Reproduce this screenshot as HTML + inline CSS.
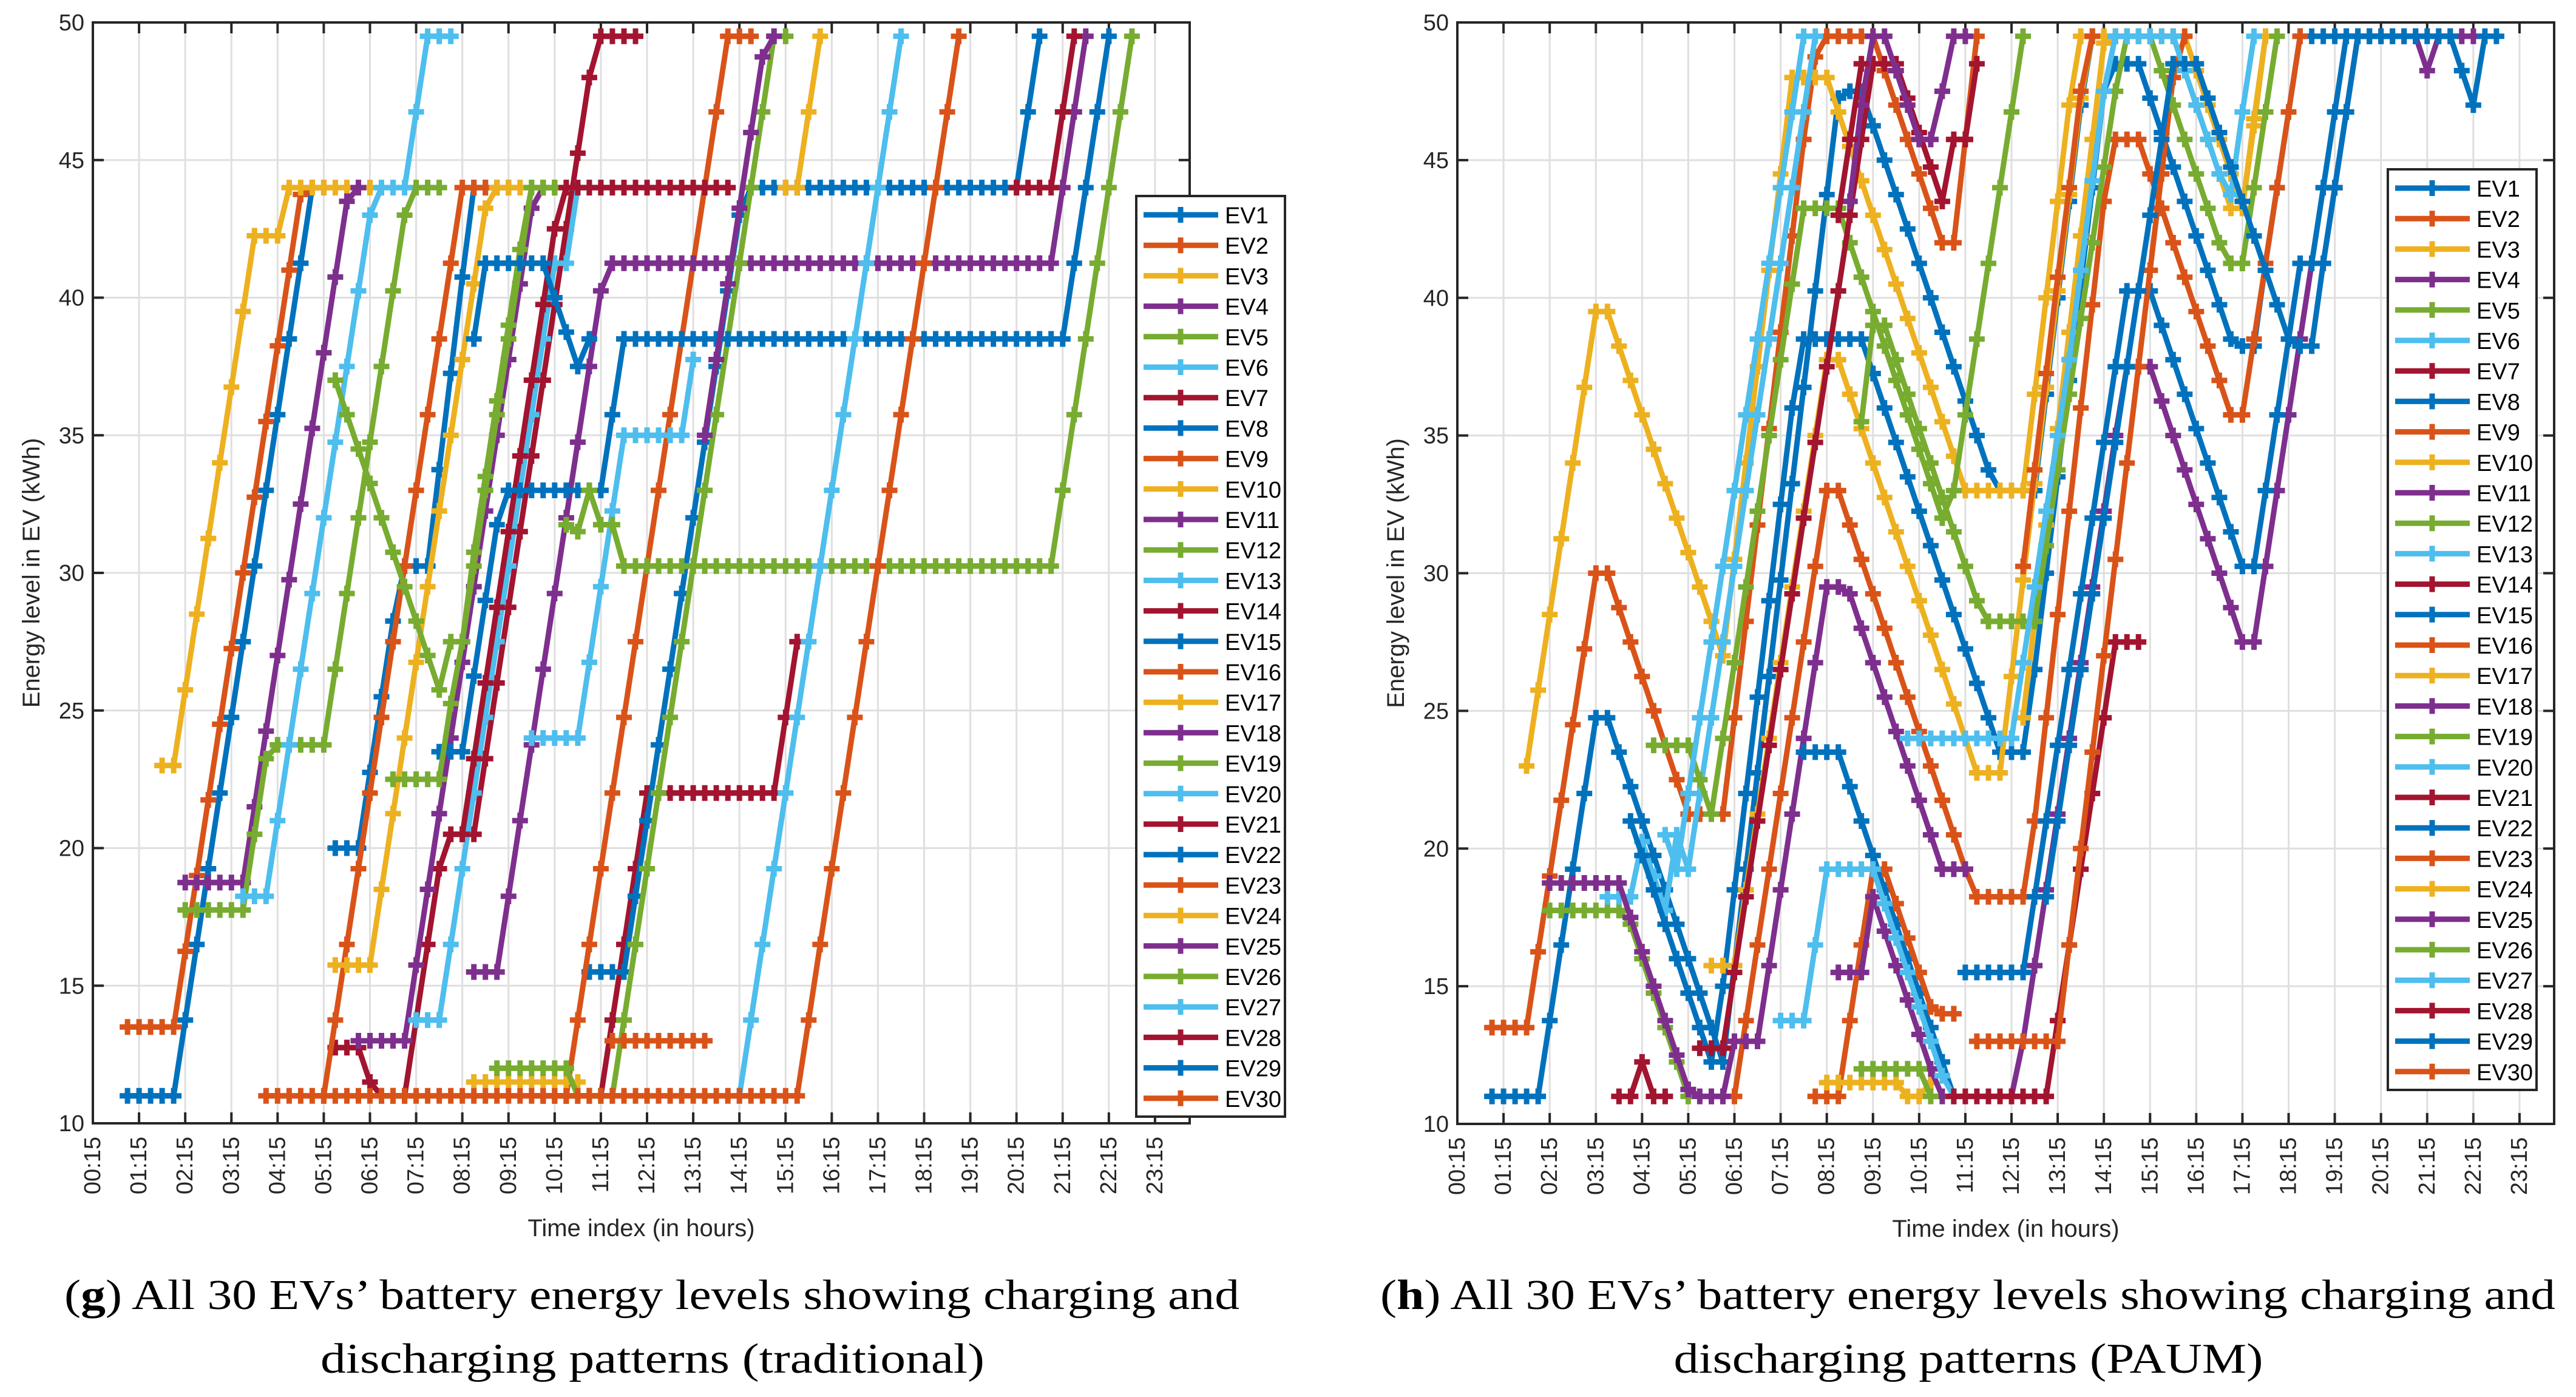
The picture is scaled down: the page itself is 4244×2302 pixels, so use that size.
<!DOCTYPE html>
<html><head><meta charset="utf-8"><style>
html,body{margin:0;padding:0;background:#fff;}
svg text{font-family:"Liberation Sans",sans-serif;}
</style></head><body>
<svg id="fig" xmlns="http://www.w3.org/2000/svg" width="4244" height="2297" viewBox="0 0 4244 2297">
<rect x="0" y="0" width="4244" height="2297" fill="#fff"/>
<g id="panelL"></g>
<g id="panelR"></g>
<g font-family="Liberation Serif, serif" font-size="70" fill="#000">
<text x="1074" y="2157" text-anchor="middle" textLength="1936" lengthAdjust="spacingAndGlyphs" style="font-family:'Liberation Serif',serif">(<tspan font-weight="bold">g</tspan>) All 30 EVs’ battery energy levels showing charging and</text>
<text x="1075" y="2262" text-anchor="middle" textLength="1094" lengthAdjust="spacingAndGlyphs" style="font-family:'Liberation Serif',serif">discharging patterns (traditional)</text>
</g>
<g font-size="70" fill="#000">
<text x="3242" y="2157" text-anchor="middle" textLength="1936" lengthAdjust="spacingAndGlyphs" style="font-family:'Liberation Serif',serif">(<tspan font-weight="bold">h</tspan>) All 30 EVs’ battery energy levels showing charging and</text>
<text x="3243" y="2262" text-anchor="middle" textLength="971" lengthAdjust="spacingAndGlyphs" style="font-family:'Liberation Serif',serif">discharging patterns (PAUM)</text>
</g>
</svg>
<script>
const xTickLabels = ["00:15","01:15","02:15","03:15","04:15","05:15","06:15","07:15","08:15","09:15","10:15","11:15","12:15","13:15","14:15","15:15","16:15","17:15","18:15","19:15","20:15","21:15","22:15","23:15"];
const xTickValues = [0.25,1.25,2.25,3.25,4.25,5.25,6.25,7.25,8.25,9.25,10.25,11.25,12.25,13.25,14.25,15.25,16.25,17.25,18.25,19.25,20.25,21.25,22.25,23.25];
const yTickValues = [10,15,20,25,30,35,40,45,50];
const seriesNames = ["EV1","EV2","EV3","EV4","EV5","EV6","EV7","EV8","EV9","EV10","EV11","EV12","EV13","EV14","EV15","EV16","EV17","EV18","EV19","EV20","EV21","EV22","EV23","EV24","EV25","EV26","EV27","EV28","EV29","EV30"];

const tradStart = [1.0,1.0,1.75,2.25,2.25,3.5,5.5,5.5,5.25,5.5,6.0,5.5,7.25,10.0,11.0,10.5,8.5,8.5,9.0,9.75,8.25,7.75,11.5,15.25,13.5,6.75,14.25,20.25,8.5,4.0];
const tradVals = [
[11,11,11,11,11,13.75,16.5,19.25,22,24.75,27.5,30.25,33,35.75,38.5,41.25,44],
[13.5,13.5,13.5,13.5,13.5,16.25,19,21.75,24.5,27.25,30,32.75,35.5,38.25,41,43.75,44,44],
[23,23,25.75,28.5,31.25,34,36.75,39.5,42.25,42.25,42.25,44,44,44,44,44,44,44,44],
[18.75,18.75,18.75,18.75,18.75,18.75,21.5,24.25,27,29.75,32.5,35.25,38,40.75,43.5,44],
[17.75,17.75,17.75,17.75,17.75,17.75,20.5,23.25,23.75,23.75,23.75,23.75,23.75,26.5,29.25,32,34.75,37.5,40.25,43,44,44,44],
[18.25,18.25,18.25,21,23.75,26.5,29.25,32,34.75,37.5,40.25,43,44,44,44,46.75,49.5,49.5,49.5],
[12.75,12.75,12.75,11.5,11,11,11,13.75,16.5,19.25,20.5,20.5,20.5,23.25,26,28.75,31.5,34.25,37,39.75,42.5,45.25,48,49.5,49.5,49.5,49.5],
[20,20,20,22.75,25.5,28.25,30.25,30.25,30.25,33.75,37.25,40.75,44,44,44,44],
[11,13.75,16.5,19.25,22,24.75,27.5,30.25,33,35.75,38.5,41.25,44,44,44],
[15.75,15.75,15.75,15.75,18.5,21.25,24,26.75,29.5,32.25,35,37.75,40.5,43.25,44,44,44],
[13,13,13,13,13,15.75,18.5,21.25,24,26.75,29.5,32.25,35,37.75,40.5,43.25,44,44],
[37,35.75,34.5,33.25,32,30.75,29.5,28.25,27,25.75,27.5,27.5,30.25,33,35.75,38.5,41.25,44,44,44,44,44],
[13.75,13.75,13.75,16.5,19.25,22,24.75,27.5,30.25,33,35.75,38.5,41.25,41.25,44,44,44],
[11,11,11,11,11,11,13.75,16.5,19.25,22,22,22,22,22,22,22,22,22,22,22,22,24.75,27.5],
[15.5,15.5,15.5,15.5,18.25,21,23.75,26.5,29.25,32,34.75,37.5,40.25,43,44,44,44,44,44,44,44,44,44,44,44,44,44,44,44,44,44,44,44,44,44,44,44,44,46.75,49.5],
[11,13.75,16.5,19.25,22,24.75,27.5,30.25,33,35.75,38.5,41.25,44,46.75,49.5,49.5,49.5],
[11.5,11.5,11.5,11.5,11.5,11.5,11.5,11.5,11.5,11.5],
[15.5,15.5,15.5,18.25,21,23.75,26.5,29.25,32,34.75,37.5,40.25,41.25,41.25,41.25,41.25,41.25,41.25,41.25,41.25,41.25,41.25,41.25,41.25,41.25,41.25,41.25,41.25,41.25,41.25,41.25,41.25,41.25,41.25,41.25,41.25,41.25,41.25,41.25,41.25,41.25,41.25,41.25,41.25,41.25,41.25,41.25,41.25,41.25,41.25,41.25,44,46.75,49.5],
[12,12,12,12,12,12,12,11,11,11,11,13.75,16.5,19.25,22,24.75,27.5,30.25,33,35.75,38.5,41.25,44,46.75,49.5,49.5],
[24,24,24,24,24,26.75,29.5,32.25,35,35,35,35,35,35,37.75],
[20.5,23.25,26,28.75,31.5,34.25,37,39.75,42.5,44,44,44,44,44,44,44,44,44,44,44,44,44,44,44],
[23.5,23.5,23.5,26.25,29,31.75,33,33,33,33,33,33,33,33,33,35.75,38.5,38.5,38.5,38.5,38.5,38.5,38.5,38.5,38.5,38.5,38.5,38.5,38.5,38.5,38.5,38.5,38.5,38.5,38.5,38.5,38.5,38.5,38.5,38.5,38.5,38.5,38.5,38.5,38.5,38.5,38.5,38.5,38.5,38.5,38.5,38.5,38.5,38.5,38.5,41.25,44,46.75,49.5],
[13,13,13,13,13,13,13,13,13],
[44,44,46.75,49.5],
[35,37.75,40.5,43.25,46,48.75,49.5],
[22.5,22.5,22.5,22.5,22.5,25.25,27.5,30.75,33.5,36.25,39,41.75,44,44,null,31.75,31.5,33,31.75,31.75,30.25,30.25,30.25,30.25,30.25,30.25,30.25,30.25,30.25,30.25,30.25,30.25,30.25,30.25,30.25,30.25,30.25,30.25,30.25,30.25,30.25,30.25,30.25,30.25,30.25,30.25,30.25,30.25,30.25,30.25,30.25,30.25,30.25,30.25,30.25,30.25,30.25,30.25,33,35.75,38.5,41.25,44,46.75,49.5],
[11,13.75,16.5,19.25,22,24.75,27.5,30.25,33,35.75,38.5,41.25,44,46.75,49.5],
[44,44,44,44,46.75,49.5],
[38.5,41.25,41.25,41.25,41.25,41.25,41.25,40,38.75,37.5,38.5],
[11,11,11,11,11,11,11,11,11,11,11,11,11,11,11,11,11,11,11,11,11,11,11,11,11,11,11,11,11,11,11,11,11,11,11,11,11,11,11,11,11,11,11,11,11,11,11,13.75,16.5,19.25,22,24.75,27.5,30.25,33,35.75,38.5,41.25,44,46.75,49.5]
];

const paumStart = [1.0,1.0,1.75,12.25,2.25,3.5,3.75,4.0,5.75,5.75,2.25,4.5,4.75,5.5,7.75,8.0,8.25,8.5,9.0,7.25,11.0,11.25,11.5,12.5,8.75,9.0,10.0,8.5,13.0,12.5];
const paumVals = [
[11,11,11,11,11,13.75,16.5,19.25,22,24.75,24.75,23.5,22.25,21,19.75,18.5,17.25,16,14.75,13.5,12.25,15.75,19.25,22.75,26.25,29.75,33.25,36.75,40.25,43.75,47.25,47.5,47.5,46.25,45,43.75,42.5,41.25,40,38.75,37.5,36.25,35,33.75,33,33,33,33,36.5,40,43.5,47,49.5],
[13.5,13.5,13.5,13.5,16.25,19,21.75,24.5,27.25,30,30,28.75,27.5,26.25,25,23.75,22.5,21.25,21.25,21.25,21.25,24.75,28.25,31.75,35.25,38.75,42.25,45.75,48.75,49.5,49.5,49.5,49.5,49.5,48.25,47,45.75,44.5,43.25,42,42,45.75,49.5],
[23,25.75,28.5,31.25,34,36.75,39.5,39.5,38.25,37,35.75,34.5,33.25,32,30.75,29.5,28.25,27,30.5,34,37.5,41,44.5,48,48,48,48,46.75,45.5,44.25,43,41.75,40.5,39.25,38,36.75,35.5,34.25,33,33,33,33,33,33,36.5,40,43.5,47,49.5,49.5,49.5,49.5,49.5,49.5,49.5,49.5,49.5,49.5,48.25,47,45.75,44.5,43.25,46.25,49.5],
[11,13,15.75,18.5,21.25,24,26.75,29.5,32.25,35,37.5,37.5,37.5,36.25,35,33.75,32.5,31.25,30,28.75,27.5,27.5,30.25,33,35.75,38.5,41.25,41.25,44,46.75,49.5,49.5,49.5,49.5,49.5,49.5,48.25,49.5,49.5,49.5,49.5],
[17.75,17.75,17.75,17.75,17.75,17.75,17.75,17.25,16,14.75,13.5,12.25,11],
[18.25,18.25,18.25,20.25,19,17.75,20.5,19.25,22,24.75,27.5,30.25,33,35.75,38.5,41.25,44,46.75,49.5],
[11,11,12.25,11,11],
[21,19.75,18.5,17.25,16,14.75,13.5,12.25,15,18.5,22,25.5,29,32.5,36,38.5,38.5,38.5,38.5,38.5,38.5,37.25,36,34.75,33.5,32.25,31,29.75,28.5,27.25,26,24.75,23.5,23.5,23.5,26.5,30,33.5,37,40.5,44,47.5,48.5,48.5,48.5,47.25,46,44.75,43.5,42.25,41,39.75,38.5,38.25,38.25,41.25,44,46.75,49.5,49.5,49.5,49.5,49.5,49.5,49.5,49.5,49.5,49.5,49.5,49.5,49.5,49.5,48.25,47,49.5,49.5],
[11,11,11,13.75,16.5,19.25,22,24.75,27.5,30.25,33,33,31.75,30.5,29.25,28,26.75,25.5,24.25,23,21.75,20.5,19.25,18.25,18.25,18.25,18.25,18.25,21,24.75,28.5,32.25,36,39.75,43.5,45.75,45.75,45.75,44.5,43.25,42,40.75,39.5,38.25,37,35.75,35.75,38.5,41.25,44,46.75,49.5],
[15.75,15.75,15.75,18.5,21.25,24,26.75,29.5,32.25,35,37.75,37.75,36.5,35.25,34,32.75,31.5,30.25,29,27.75,26.5,25.25,24,22.75,22.75,22.75,26.25,29.75,33.25,36.75,40.25,43.75,47.25,49.5,49.5,49.5,49.5,49.5],
[18.75,18.75,18.75,18.75,18.75,18.75,18.75,17.5,16.25,15,13.75,12.5,11.25,11,11,11,13,13,13,15.75,18.5,21.25,24,26.75,29.5,29.5,29.25,28,26.75,25.5,24.25,23,21.75,20.5,19.25,19.25,19.25],
[23.75,23.75,23.75,23.75,22.5,21.25,24,26.75,29.5,32.25,35,37.75,40.5,43.25,43.25,43.25,43.25,42,40.75,39.5,38.25,37,35.75,34.5,33.25,32,33,35.75,38.5,41.25,44,46.75,49.5],
[20.5,19.25,22,24.75,27.5,30.25,33,35.75,38.5,41.25,44,46.75,49.5],
[12.75,12.75,12.75,15.5,18.25,21,23.75,26.5,29.25,32,34.75,37.5,40.25,43,45.75,48.5,48.5,48.5,47.25,46,44.75,43.5,45.75,45.75,48.5],
[23.5,23.5,23.5,23.5,22.25,21,19.75,18.5,17.25,16,14.75,13.5,12.25,11],
[11,11,11,13.75,16.5,19.25,19.25,18,16.75,15.5,14.25,14,14],
[11.5,11.5,11.5,11.5,11.5,11.5,11.5,11,11,11.5],
[15.5,15.5,15.5,18.25,17,15.75,14.5,13.25,12,11],
[12,12,12,12,12,12,11],
[13.75,13.75,13.75,16.5,19.25,19.25,19.25,19.25,19.25,18,16.75,15.5,14.25,13,11.75,11],
[11,11,11,11,11,11,11,11,11,13.75,16.5,19.25,22,24.75,27.5,27.5,27.5],
[15.5,15.5,15.5,15.5,15.5,15.5,18.25,21,23.75,26.5,29.25,32,34.75,37.5,40.25,40.25,40.25,39,37.75,36.5,35.25,34,32.75,31.5,30.25,30.25,33,35.75,38.5,41.25,41.25,44,46.75,49.5],
[13,13,13,13,13,13,13,13,16.5,20,23.5,27,30.5,34,37.5,41,44.5,48,49.5],
[24.75,28.25,31.75,35.25,38.75,42.25,45.75,49.25,49.5,49.5,49.5,49.5,49.5,49.5,48.25,47,45.75,44.5,43.25,43.25,46.5,49.5],
[43.5,47,49.5,49.5,48.25,47,45.75,45.75,47.5,49.5,49.5],
[35.5,39,39,37.75,36.5,35.25,34,32.75,31.5,30.25,29,28.25,28.25,28.25,28.25,28.25,31,33.75,36.5,39.25,42,44.75,47.5,49.5,49.5,49.5,48.25,47,45.75,44.5,43.25,42,41.25,41.25,44,46.75,49.5],
[24,24,24,24,24,24,24,24,24,24,26.75,29.5,32.25,35,37.75,41,44.25,47.5,49.5,49.5,49.5,49.5,49.5,49.5,48.25,47,45.75,44.5,43.75,46.75,49.5],
[43,45.75,48.5],
[18.25,21,23.75,26.5,29.25,32,34.75,37.5,40.25,43,45.75,48.5,48.5,48.5,47.25,46,44.75,43.5,42.25,41,39.75,38.5,38.25,38.25,41.25,44,46.75,49.5,49.5],
[30.25,33.75,37.25,40.75,44,47.5,49.5]
];

const palette = ["#0072BD","#D95319","#EDB120","#7E2F8E","#77AC30","#4DBEEE","#A2142F"];
const NS = "http://www.w3.org/2000/svg";
function mk(tag, attrs, parent){const e=document.createElementNS(NS,tag);for(const k in attrs)e.setAttribute(k,attrs[k]);parent.appendChild(e);return e;}

function drawPanel(g, L, R, T, B, starts, vals, legX, legY, key){
  const xMin=0.25,xMax=24.0,yMin=10,yMax=50;
  const X=t=>L+(t-xMin)/(xMax-xMin)*(R-L);
  const Y=v=>B-(v-yMin)/(yMax-yMin)*(B-T);
  const grid=mk('g',{},g);
  
  
  xTickValues.forEach(t=>{mk('line',{x1:X(t),x2:X(t),y1:T,y2:B,stroke:'#dfdfdf','stroke-width':3},grid);});
  yTickValues.forEach(v=>{mk('line',{x1:L,x2:R,y1:Y(v),y2:Y(v),stroke:'#dfdfdf','stroke-width':3},grid);});
  const ticks=mk('g',{stroke:'#262626','stroke-width':4},g);
  
  
  xTickValues.forEach(t=>{mk('line',{x1:X(t),x2:X(t),y1:B,y2:B-18},ticks);mk('line',{x1:X(t),x2:X(t),y1:T,y2:T+18},ticks);});
  yTickValues.forEach(v=>{mk('line',{x1:L,x2:L+18,y1:Y(v),y2:Y(v)},ticks);mk('line',{x1:R,x2:R-18,y1:Y(v),y2:Y(v)},ticks);});
  const xl=mk('g',{fill:'#262626','font-size':38},g);
  
  
  xTickValues.forEach((t,i)=>{const tx=mk('text',{x:0,y:0,'text-anchor':'end','dominant-baseline':'central',transform:`translate(${X(t)},${B+22}) rotate(-90)`},xl);tx.textContent=xTickLabels[i];});
  const yl=mk('g',{fill:'#262626','font-size':38},g);
  
  
  yTickValues.forEach(v=>{const tx=mk('text',{x:L-14,y:Y(v)+13,'text-anchor':'end'},yl);tx.textContent=String(v);});
  const xt=mk('text',{x:(L+R)/2,y:B+186,'text-anchor':'middle','font-size':40,fill:'#262626'},g);
  
  
  xt.textContent='Time index (in hours)';
  const yt=mk('text',{x:0,y:0,'text-anchor':'middle','font-size':40,fill:'#262626',transform:`translate(${L-88},${(T+B)/2}) rotate(-90)`},g);
  
  
  yt.textContent='Energy level in EV (kWh)';
  const sg=mk('g',{},g);
  
  
  vals.forEach((arr,i)=>{
    const col=palette[i%7];
    const s=mk('g',{},sg);
    
    
    let d='',pen=false,md='';
    arr.forEach((v,k)=>{
      if(v===null){pen=false;return;}
      const x=X(starts[i]+k*0.25),y=Y(v);
      d+=(pen?'L':'M')+x.toFixed(1)+' '+y.toFixed(1)+' ';pen=true;
      md+=`M${(x-13).toFixed(1)} ${y.toFixed(1)}h26M${x.toFixed(1)} ${(y-13).toFixed(1)}v26`;
    });
    mk('path',{d:d,fill:'none',stroke:col,'stroke-width':9,'stroke-linejoin':'round'},s);
    mk('path',{d:md,fill:'none',stroke:col,'stroke-width':9},s);
  });
  const box=mk('rect',{x:L,y:T,width:R-L,height:B-T,fill:'none',stroke:'#262626','stroke-width':4},g);
  
  
  const lg=mk('g',{},g);
  
  
  mk('rect',{x:legX,y:legY,width:245,height:1517,fill:'#fff',stroke:'#262626','stroke-width':4},lg);
  seriesNames.forEach((n,i)=>{
    const e=mk('g',{},lg);
    
    
    const y=legY+31+i*50.2,col=palette[i%7];
    mk('line',{x1:legX+12,x2:legX+135,y1:y,y2:y,stroke:col,'stroke-width':9},e);
    mk('path',{d:`M${legX+73} ${y-13}v26`,stroke:col,'stroke-width':9},e);
    const tx=mk('text',{x:legX+146,y:y+14,'font-size':38,fill:'#000'},e);
    tx.textContent=n;
  });
}
drawPanel(document.getElementById('panelL'),153,1960,37,1851,tradStart,tradVals,1872,323,'g');
drawPanel(document.getElementById('panelR'),2401,4208,37,1852,paumStart,paumVals,3934,279,'h');
</script>
</body></html>
